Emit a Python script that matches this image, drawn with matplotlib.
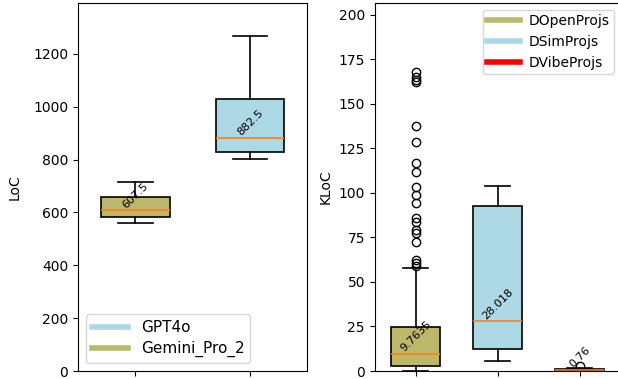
import matplotlib.pyplot as plt
from matplotlib.lines import Line2D

# --- LoC per generated project (left panel) ---
loc_models = ["Gemini_Pro_2", "GPT4o"]
loc_colors = ["darkkhaki", "lightblue"]
loc_med = [607.5, 882.5]
loc_q1 = [581, 829]
loc_q3 = [657, 1029]
loc_whislo = [561, 801]
loc_whishi = [716, 1268]

# --- KLoC per dataset (right panel) ---
kloc_sets = ["DOpenProjs", "DSimProjs", "DVibeProjs"]
kloc_colors = ["darkkhaki", "lightblue", "red"]
kloc_med = [9.7635, 28.018, 0.76]
kloc_q1 = [3.0, 12.2, 0.45]
kloc_q3 = [24.9, 92.8, 1.15]
kloc_whislo = [0.2, 5.6, 0.2]
kloc_whishi = [57.6, 103.8, 1.5]
kloc_fliers = [
    [168.0, 165.2, 163.3, 162.2, 137.5, 128.5, 116.6, 111.9, 103.5, 98.8,
     94.1, 85.7, 83.8, 79.1, 77.3, 72.6, 62.3, 60.4, 58.9],
    [],
    [3.0],
]


def make_stats(med, q1, q3, lo, hi, fliers=None):
    stats = []
    for i in range(len(med)):
        stats.append({
            "med": med[i], "q1": q1[i], "q3": q3[i],
            "whislo": lo[i], "whishi": hi[i],
            "fliers": fliers[i] if fliers else [],
        })
    return stats


def draw(ax, stats, colors):
    bp = ax.bxp(stats, widths=0.6, patch_artist=True, showfliers=True,
                boxprops=dict(edgecolor="black", linewidth=1.2),
                whiskerprops=dict(linewidth=1.2),
                capprops=dict(linewidth=1.2),
                medianprops=dict(color="#ff7f0e", linewidth=1.2),
                flierprops=dict(marker="o", markersize=6,
                                markerfacecolor="none", markeredgecolor="black"))
    for patch, c in zip(bp["boxes"], colors):
        patch.set_facecolor(c)
    # median value written above each median line
    for i, s in enumerate(stats):
        ax.text(i + 1, s["med"], f"{s['med']}", rotation=45,
                ha="center", va="bottom", fontsize=8)
    ax.set_xticklabels([])


fig = plt.figure(figsize=(6.18, 3.79), dpi=100)
ax1 = fig.add_axes([0.1262, 0.0211, 0.371, 0.971])
ax2 = fig.add_axes([0.6063, 0.0211, 0.398, 0.971])

draw(ax1, make_stats(loc_med, loc_q1, loc_q3, loc_whislo, loc_whishi), loc_colors)
ax1.set_ylim(0, 1392)
ax1.set_ylabel("LoC", labelpad=8)
h1 = [Line2D([0], [0], color=loc_colors[1], lw=4),
      Line2D([0], [0], color=loc_colors[0], lw=4)]
ax1.legend(h1, [loc_models[1], loc_models[0]], loc="lower left",
           fontsize=11, handlelength=2.4, labelspacing=0.4)

draw(ax2, make_stats(kloc_med, kloc_q1, kloc_q3, kloc_whislo, kloc_whishi,
                     kloc_fliers), kloc_colors)
ax2.set_ylim(0, 206.5)
ax2.set_ylabel("KLoC")
h2 = [Line2D([0], [0], color=c, lw=4) for c in kloc_colors]
ax2.legend(h2, kloc_sets, loc="upper right", handlelength=2.4,
           handletextpad=0.6, borderpad=0.3)

fig.savefig("out.png", dpi=100)
